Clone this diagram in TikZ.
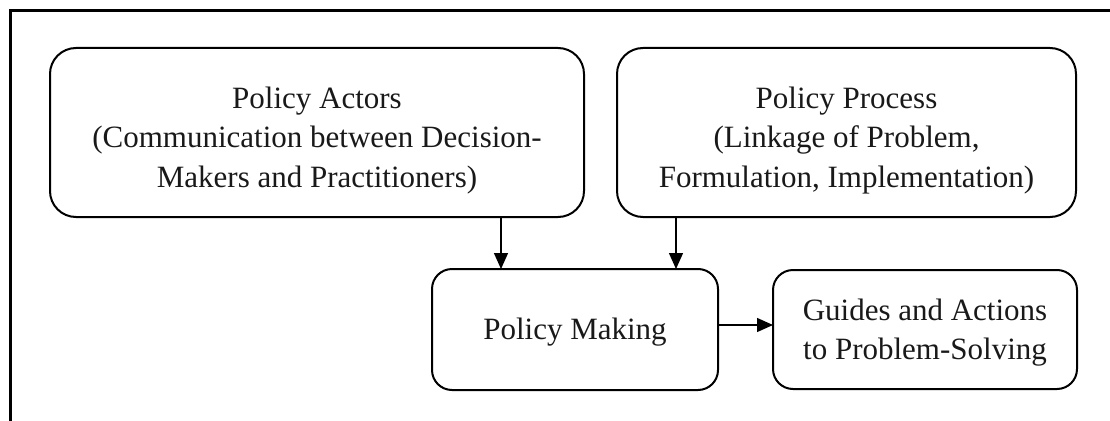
\documentclass[tikz,border=0pt]{standalone}
\usepackage{fontspec}
\setmainfont{Liberation Serif}
\usetikzlibrary{arrows.meta}
\begin{document}
\begin{tikzpicture}[x=1pt,y=-1pt,
  box/.style={draw=black, line width=2pt, rounded corners=#1,
    inner sep=0pt, outer sep=0pt},
  box/.default=26pt,
  label/.style={align=center, inner sep=0pt, text=black!90,
    font=\fontsize{31}{39.5}\selectfont},
  arr/.style={-{Triangle[length=16pt,width=14pt]}, line width=1.4pt}]
\useasboundingbox (0,0) rectangle (1110,420);

% frame
\draw[line width=3pt] (10,421) -- (10,11) -- (1111,11);

% boxes
\node[box, minimum width=534pt, minimum height=169pt] (actors) at (317,132.5) {};
\node[box, minimum width=459pt, minimum height=169pt] (process) at (846.5,132.5) {};
\node[box=20pt, minimum width=286pt, minimum height=121pt] (making) at (575,329.5) {};
\node[box=20pt, minimum width=304pt, minimum height=119pt] (guides) at (925,329.5) {};

% texts, set a little below the box centres
\node[label] (actorsT) at ([yshift=-8pt]actors.center)
  {Policy Actors\\(Communication between Decision-\\Makers and Practitioners)};
\node[label] (processT) at ([yshift=-8pt]process.center)
  {Policy Process\\(Linkage of Problem,\\Formulation, Implementation)};
\node[label] (makingT) at ([yshift=-3pt]making.center) {Policy Making};
\node[label] (guidesT) at ([yshift=-3pt]guides.center)
  {Guides and Actions\\to Problem-Solving};

% arrow columns
\coordinate (xa) at (501,0);
\coordinate (xb) at (676,0);
\coordinate (yc) at (0,325);

\draw[arr] (actors.south -| xa) -- (making.north -| xa);
\draw[arr] (process.south -| xb) -- (making.north -| xb);
\draw[arr] (making.east |- yc) -- (guides.west |- yc);
\end{tikzpicture}
\end{document}
